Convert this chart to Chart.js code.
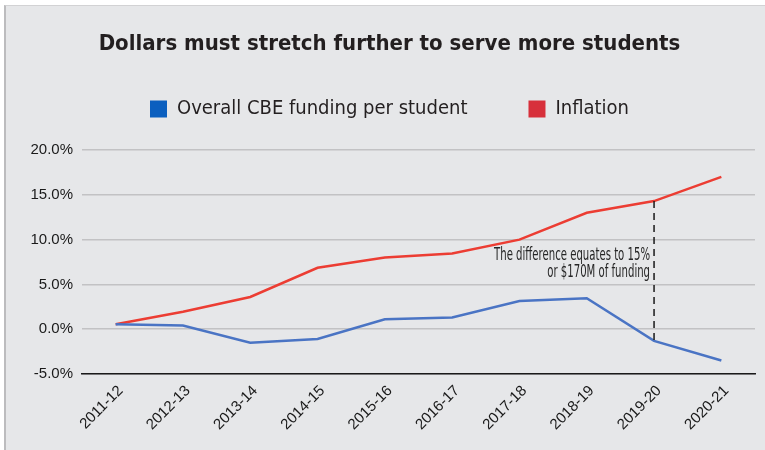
<!DOCTYPE html>
<html>
<head>
<meta charset="utf-8">
<script src="https://cdn.jsdelivr.net/npm/chart.js@4.4.1/dist/chart.umd.min.js"></script>
<style>
  html, body { margin: 0; padding: 0; background: #ffffff; }
  #bg { position: absolute; left: 4px; top: 5px; width: 761px; height: 445px;
        background: #e6e7e9; border-left: 2px solid #bcbcbe; border-top: 1px solid #d2d2d4; box-sizing: border-box; }
  #wrap { position: absolute; left: 0; top: 0; width: 765px; height: 450px; }
</style>
</head>
<body>
<div id="bg"></div>
<div id="wrap"><canvas id="c" width="765" height="450"></canvas></div>
<script>
// ---- data ----
const categories = ["2011-12","2012-13","2013-14","2014-15","2015-16","2016-17","2017-18","2018-19","2019-20","2020-21"];
const fundingPerStudent = [0.55, 0.4, -1.5, -1.1, 1.1, 1.3, 3.15, 3.45, -1.3, -3.5];
const inflation = [0.55, 1.95, 3.6, 6.85, 8.0, 8.45, 10.0, 13.0, 14.3, 17.0];
const yTicks = [-5, 0, 5, 10, 15, 20];
const seriesNames = ["Overall CBE funding per student", "Inflation"];
const titleText = "Dollars must stretch further to serve more students";
const noteLines = ["The difference equates to 15%", "or $170M of funding"];
const noteIndex = 8;

const narrow = "'Liberation Sans Narrow', 'DejaVu Sans Condensed', 'Arial Narrow', sans-serif";
const arial = "'Liberation Sans', Arial, sans-serif";

const annotationPlugin = {
  id: 'gapNote',
  afterDatasetsDraw(chart) {
    const {ctx, scales} = chart;
    const x = scales.x.getPixelForValue(noteIndex);
    const yTop = scales.y.getPixelForValue(inflation[noteIndex]);
    const yBot = scales.y.getPixelForValue(fundingPerStudent[noteIndex]);
    ctx.save();
    ctx.strokeStyle = '#1a1a1a';
    ctx.lineWidth = 1.5;
    ctx.setLineDash([7, 5]);
    ctx.beginPath();
    ctx.moveTo(x, yTop);
    ctx.lineTo(x, yBot);
    ctx.stroke();
    ctx.setLineDash([]);
    ctx.fillStyle = '#262626';
    ctx.font = "17px " + narrow;
    ctx.textAlign = 'right';
    ctx.textBaseline = 'middle';
    const targetW = 156;
    const w = ctx.measureText(noteLines[0]).width;
    const sx = Math.min(1, targetW / w);
    const y1 = scales.y.getPixelForValue(8.2);
    const y2 = scales.y.getPixelForValue(6.3);
    [[noteLines[0], y1], [noteLines[1], y2]].forEach(([t, yy]) => {
      ctx.save();
      ctx.translate(x - 4, yy);
      ctx.scale(sx, 1);
      ctx.fillText(t, 0, 0);
      ctx.restore();
    });
    ctx.restore();
  }
};

new Chart(document.getElementById('c'), {
  type: 'line',
  data: {
    labels: categories,
    datasets: [
      { label: seriesNames[0], data: fundingPerStudent, xAxisID: 'x', yAxisID: 'y',
        borderColor: '#4a74c4', backgroundColor: '#0b5fbf',
        borderWidth: 2.5, pointRadius: 0, tension: 0, fill: false },
      { label: seriesNames[1], data: inflation, xAxisID: 'x', yAxisID: 'y',
        borderColor: '#ec3d33', backgroundColor: '#d7303b',
        borderWidth: 2.5, pointRadius: 0, tension: 0, fill: false }
    ]
  },
  options: {
    responsive: false,
    animation: false,
    devicePixelRatio: 1,
    layout: { padding: { left: 24, right: 10, top: 0, bottom: 0 } },
    plugins: {
      title: {
        display: true, text: titleText, color: '#231f20',
        font: { family: narrow, size: 22, weight: 'bold', lineHeight: 1.2 },
        padding: { top: 30.8, bottom: -19.2 }
      },
      legend: {
        display: true, position: 'top', align: 'center',
        labels: {
          boxWidth: 17, boxHeight: 17, padding: 61, color: '#231f20',
          font: { family: narrow, size: 20 },
          generateLabels(chart) {
            return chart.data.datasets.map((d, i) => ({
              text: d.label, fillStyle: d.backgroundColor, strokeStyle: d.backgroundColor,
              lineWidth: 0, hidden: false, datasetIndex: i, fontColor: '#231f20'
            }));
          }
        }
      },
      tooltip: { enabled: false }
    },
    scales: {
      xTop: {
        type: 'category', position: 'top', display: true,
        grid: { display: false, drawTicks: false }, border: { display: false },
        ticks: { display: false },
        afterFit(s) { s.height = 21; }
      },
      x: {
        type: 'category', position: 'bottom', offset: true,
        grid: { display: false, drawTicks: false },
        border: { display: true, color: '#1a1a1a', width: 1.5 },
        ticks: { color: '#1a1a1a', font: { family: arial, size: 15 }, maxRotation: 45, minRotation: 45,
                 padding: 8, labelOffset: 5, autoSkip: false },
        afterFit(s) { s.height = 76; }
      },
      y: {
        type: 'linear', min: yTicks[0], max: yTicks[yTicks.length - 1],
        afterBuildTicks(s) { s.ticks = yTicks.map(v => ({ value: v })); },
        grid: { color: '#c2c2c4', lineWidth: 1.5, drawTicks: false },
        border: { display: false },
        ticks: { color: '#1a1a1a', font: { family: arial, size: 15 }, padding: 9,
                 callback: v => v.toFixed(1) + '%' },
        afterFit(s) { s.width = 58; }
      }
    }
  },
  plugins: [annotationPlugin]
});
</script>
</body>
</html>
